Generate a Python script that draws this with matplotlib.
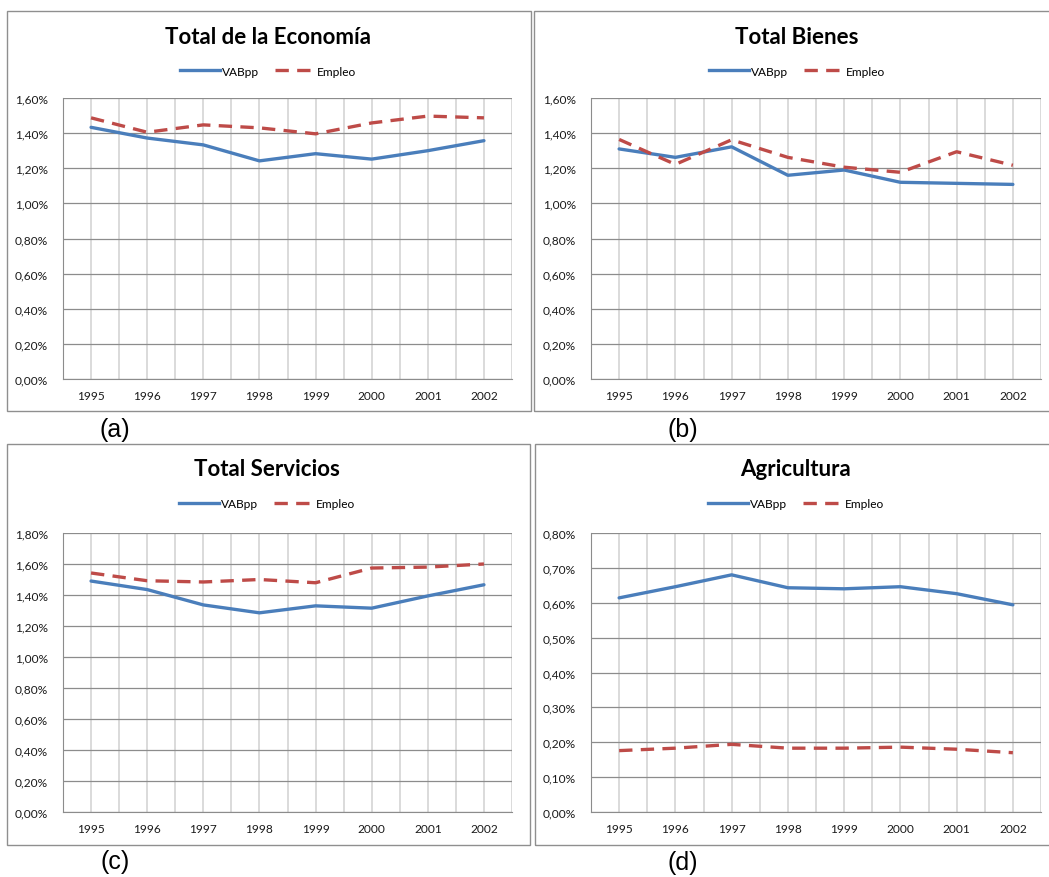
import matplotlib
matplotlib.use("Agg")
import matplotlib.pyplot as plt
from matplotlib.patches import Rectangle
from matplotlib.ticker import FuncFormatter, MultipleLocator
from matplotlib.lines import Line2D

years = ["1995", "1996", "1997", "1998", "1999", "2000", "2001", "2002"]

titles = ["Total de la Economía", "Total Bienes", "Total Servicios", "Agricultura"]
panel_labels = ["(a)", "(b)", "(c)", "(d)"]

vab_economia = [1.433, 1.372, 1.333, 1.242, 1.283, 1.252, 1.300, 1.357]
emp_economia = [1.487, 1.405, 1.447, 1.430, 1.396, 1.458, 1.497, 1.487]

vab_bienes = [1.310, 1.262, 1.322, 1.160, 1.190, 1.120, 1.114, 1.108]
emp_bienes = [1.364, 1.222, 1.362, 1.262, 1.206, 1.177, 1.294, 1.217]

vab_servicios = [1.490, 1.435, 1.336, 1.285, 1.330, 1.315, 1.394, 1.466]
emp_servicios = [1.542, 1.492, 1.484, 1.500, 1.479, 1.574, 1.580, 1.600]

vab_agricultura = [0.614, 0.646, 0.680, 0.643, 0.640, 0.646, 0.626, 0.594]
emp_agricultura = [0.176, 0.183, 0.194, 0.183, 0.183, 0.186, 0.180, 0.170]

series = [
    (vab_economia, emp_economia),
    (vab_bienes, emp_bienes),
    (vab_servicios, emp_servicios),
    (vab_agricultura, emp_agricultura),
]
ymax = [1.6, 1.6, 1.8, 0.8]
ystep = [0.2, 0.2, 0.2, 0.1]

W, H = 1049, 878
fig = plt.figure(figsize=(W / 100, H / 100), dpi=100)
fig.patch.set_facecolor("white")

FONT = ["Lato", "DejaVu Sans"]
BLUE = "#4A7EBB"
RED = "#BE4B48"

# pixel layouts: panel box (x0, y0, x1, y1), axes (left, top, right, bottom), center x, label pos
boxes = [(7, 12, 531, 412), (534, 12, 1060, 412), (7, 445, 530, 846), (535, 445, 1060, 846)]
axes_px = [(63, 99, 512, 380), (591, 99, 1041, 380), (63, 534, 512, 813), (591, 534, 1041, 813)]
centers = [268, 797, 267, 796]
label_pos = [(115, 430), (683, 430), (115, 862), (683, 863)]


def fx(x):
    return x / W


def fy(y):
    return 1 - y / H


pct_fmt = FuncFormatter(lambda v, p: f"{v:.2f}%".replace(".", ","))

for i in range(4):
    x0, y0, x1, y1 = boxes[i]
    fig.patches.append(Rectangle((fx(x0), fy(y1)), fx(x1) - fx(x0), fy(y0) - fy(y1),
                                 transform=fig.transFigure, fill=False,
                                 edgecolor="#8f8f8f", linewidth=1.0, zorder=0))
    l, t, r, b = axes_px[i]
    ax = fig.add_axes([fx(l), fy(b), fx(r) - fx(l), fy(t) - fy(b)])
    vab, emp = series[i]
    xs = list(range(len(years)))
    ax.plot(xs, vab, color=BLUE, linewidth=2.4, solid_capstyle="round", label="VABpp", zorder=3)
    ax.plot(xs, emp, color=RED, linewidth=2.4, dashes=(4, 2.5), label="Empleo", zorder=3)
    ax.set_xlim(-0.5, len(years) - 0.5)
    ax.set_ylim(0, ymax[i])
    ax.set_xticks(xs)
    ax.set_xticklabels(years)
    ax.set_xticks([k - 0.5 for k in range(len(years) + 1)], minor=True)
    ax.yaxis.set_major_locator(MultipleLocator(ystep[i]))
    ax.yaxis.set_major_formatter(pct_fmt)
    ax.grid(True, which="both", axis="x", color="#d4d4d4", linewidth=1.2, zorder=0)
    ax.grid(True, which="major", axis="y", color="#8c8c8c", linewidth=0.9, zorder=0)
    ax.set_axisbelow(True)
    ax.tick_params(which="both", length=0)
    ax.tick_params(axis="y", pad=11, labelsize=8.6, labelcolor="#1a1a1a")
    ax.tick_params(axis="x", pad=8, labelsize=8.6, labelcolor="#1a1a1a")
    for lab in ax.get_xticklabels() + ax.get_yticklabels():
        lab.set_family(FONT)
    for s in ["top", "right"]:
        ax.spines[s].set_visible(False)
    ax.spines["left"].set_color("#8c8c8c")
    ax.spines["bottom"].set_color("#8c8c8c")

    cx = centers[i]
    fig.text(fx(cx), fy(y0 + 25), titles[i], ha="center", va="center",
             fontsize=16, fontweight="bold", family=FONT)
    handles = [Line2D([], [], color=BLUE, linewidth=2.4),
               Line2D([], [], color=RED, linewidth=2.4, dashes=(4, 2.5))]
    fig.legend(handles, ["VABpp", "Empleo"], loc="center",
               bbox_to_anchor=(fx(cx), fy(y0 + 60)), ncol=2, frameon=False,
               prop={"family": FONT, "size": 8.6}, handlelength=3.3,
               handletextpad=0.2, columnspacing=1.3, borderpad=0)
    lx, ly = label_pos[i]
    fig.text(fx(lx), fy(ly), panel_labels[i], ha="center", va="center",
             fontsize=18, family=["Liberation Sans", "DejaVu Sans"])

fig.savefig("out.png", dpi=100, facecolor="white")
